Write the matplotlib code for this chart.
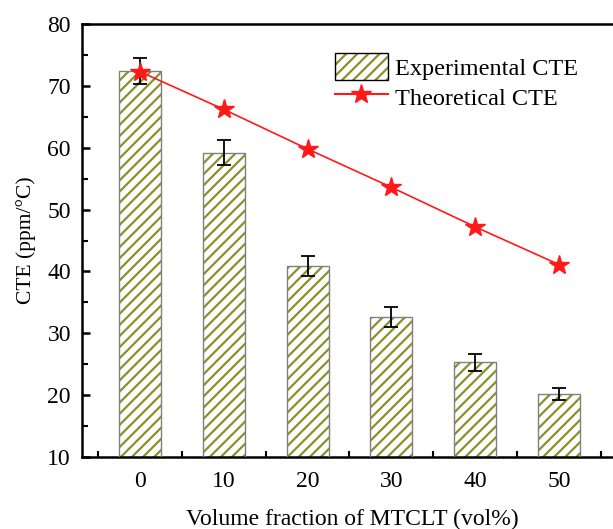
import matplotlib
matplotlib.use("Agg")
import matplotlib.pyplot as plt
from matplotlib.patches import Patch
from matplotlib.lines import Line2D

plt.rcParams['font.family'] = ['Liberation Serif', 'DejaVu Serif']
plt.rcParams['hatch.linewidth'] = 1.6

# data
fractions = [0, 10, 20, 30, 40, 50]
exp_cte = [72.4, 59.2, 40.9, 32.6, 25.3, 20.2]
exp_err = [2.1, 2.0, 1.6, 1.6, 1.4, 1.0]
theo_cte = [72.3, 66.2, 59.8, 53.6, 47.2, 41.1]

olive = '#86922a'
red = '#ff1a1a'

fig = plt.figure(figsize=(6.13, 5.29), dpi=100)
ax = fig.add_axes([82 / 613, 1 - 457 / 529, 540 / 613, 433 / 529])

# hatched fill, then grey outline on top
ax.bar(fractions, exp_cte, width=5, color='white', edgecolor=olive,
       hatch='///', linewidth=0, zorder=2)
ax.bar(fractions, exp_cte, width=5, color='none', edgecolor='#808080',
       linewidth=1.0, zorder=3)
ax.errorbar(fractions, exp_cte, yerr=exp_err, fmt='none', ecolor='black',
            elinewidth=1.3, capsize=5, capthick=1.3, zorder=4)
ax.plot(fractions, theo_cte, color=red, linewidth=1.2, marker='*',
        markersize=15, markerfacecolor=red, markeredgecolor=red, zorder=5)

ax.set_xlim(-6.9, 57.5)
ax.set_ylim(10, 80)
ax.set_xticks(fractions)
ax.set_xticks([-5, 5, 15, 25, 35, 45, 55], minor=True)
ax.set_yticks(range(10, 81, 10))
ax.set_yticks(range(15, 80, 10), minor=True)
ax.tick_params(which='major', direction='in', length=6, width=1.8, labelsize=17,
               top=False, right=False)
ax.tick_params(axis='x', which='major', pad=10)
ax.tick_params(axis='y', which='major', pad=8)
ax.tick_params(which='minor', direction='in', length=4, width=1.5,
               top=False, right=False)
for s in ax.spines.values():
    s.set_linewidth(1.8)

ax.set_xlabel('Volume fraction of MTCLT (vol%)', fontsize=17, labelpad=12)
ax.set_ylabel('CTE (ppm/°C)', fontsize=15.5, labelpad=8)

handles = [Patch(facecolor='white', edgecolor=olive, hatch='///', linewidth=0),
           Line2D([], [], color=red, marker='*', markersize=15,
                  markerfacecolor=red, markeredgecolor=red)]
leg = ax.legend(handles, ['Experimental CTE', 'Theoretical CTE'], frameon=False,
                fontsize=17.5, loc='upper left', bbox_to_anchor=(0.468, 0.932),
                handlelength=2.2, handleheight=1.3, handletextpad=0.3,
                labelspacing=0.15, borderaxespad=0, borderpad=0)

# black border round the hatched legend key
fig.canvas.draw()
bb = leg.get_patches()[0].get_window_extent()
fig.patches.append(plt.Rectangle((bb.x0, bb.y0), bb.width, bb.height,
                                 fill=False, edgecolor='black', linewidth=1.0,
                                 transform=None, figure=fig))

fig.savefig('out.png', dpi=100)
